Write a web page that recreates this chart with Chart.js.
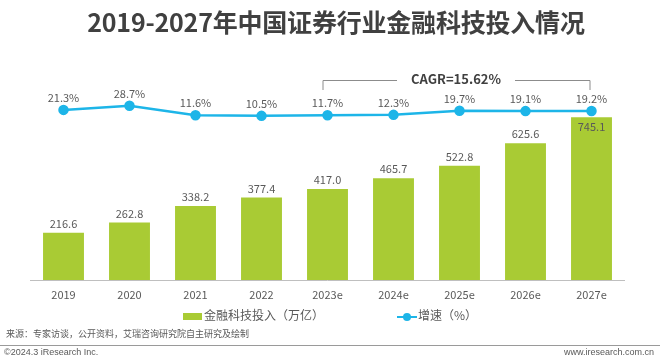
<!DOCTYPE html>
<html>
<head>
<meta charset="utf-8">
<script src="https://cdn.jsdelivr.net/npm/chart.js@4.4.0/dist/chart.umd.min.js"></script>
<style>
  html, body { margin: 0; padding: 0; background: #fff; }
  body { width: 660px; height: 362px; position: relative; overflow: hidden;
         font-family: "Noto Sans CJK SC", "Noto Sans", sans-serif; }
  #wrap { position: absolute; left: 0; top: 0; width: 660px; height: 362px; }
  .abs { position: absolute; white-space: nowrap; }
  #title { left: 6px; width: 660px; top: 3px; text-align: center; font-size: 25px;
           font-weight: bold; color: #404040; letter-spacing: -0.2px; }
  .leg { top: 306px; font-size: 12px; color: #595959; line-height: 18px; }
  .sw { display: inline-block; vertical-align: middle; }
  #src { left: 6px; top: 327px; font-size: 9px; color: #595959; }
  #rule { left: 0; top: 345px; width: 660px; height: 1px; background: #9a9a9a; }
  #copy { left: 4px; top: 347px; font-size: 9px; color: #595959; font-family: "Liberation Sans", Arial, sans-serif; }
  #web { right: 6px; top: 347px; font-size: 9px; color: #595959; font-family: "Liberation Sans", Arial, sans-serif; }
</style>
</head>
<body>
<div id="wrap"><canvas id="myChart" width="660" height="362"></canvas></div>
<div id="title" class="abs">2019-2027年中国证券行业金融科技投入情况</div>
<div class="abs leg" style="left:183px;"><span class="sw" style="width:19px;height:7px;background:#a9cb34;margin-right:2px;"></span>金融科技投入（万亿）</div>
<div class="abs leg" style="left:397px;"><span class="sw" style="width:20px;height:10px;position:relative;margin-right:1px;"><span style="position:absolute;left:0;top:4px;width:20px;height:2px;background:#1db5e8;"></span><span style="position:absolute;left:6px;top:1px;width:8px;height:8px;border-radius:50%;background:#1db5e8;"></span></span>增速（%）</div>
<div id="src" class="abs">来源：专家访谈，公开资料，艾瑞咨询研究院自主研究及绘制</div>
<div id="rule" class="abs"></div>
<div id="copy" class="abs">©2024.3 iResearch Inc.</div>
<div id="web" class="abs">www.iresearch.com.cn</div>
<script>
const categories = ['2019', '2020', '2021', '2022', '2023e', '2024e', '2025e', '2026e', '2027e'];
const investment = [216.6, 262.8, 338.2, 377.4, 417.0, 465.7, 522.8, 625.6, 745.1];
const growth = [21.3, 28.7, 11.6, 10.5, 11.7, 12.3, 19.7, 19.1, 19.2];
const cagrText = 'CAGR=15.62%';

const fontFam = '"Noto Sans CJK SC", "Noto Sans", sans-serif';

// value labels for bars and line points
const labelPlugin = {
  id: 'labels',
  afterDatasetsDraw(chart) {
    const ctx = chart.ctx;
    ctx.save();
    ctx.font = '11px ' + fontFam;
    ctx.fillStyle = '#595959';
    ctx.textAlign = 'center';
    ctx.textBaseline = 'middle';
    chart.getDatasetMeta(0).data.forEach((bar, i) => {
      const last = i === investment.length - 1;
      ctx.fillText(investment[i].toFixed(1), bar.x, last ? bar.y + 10 : bar.y - 9);
    });
    chart.getDatasetMeta(1).data.forEach((pt, i) => {
      ctx.fillText(growth[i].toFixed(1) + '%', pt.x, pt.y - 12);
    });
    ctx.restore();
  }
};

// CAGR bracket over 2023e-2027e
const cagrPlugin = {
  id: 'cagr',
  afterDraw(chart) {
    const ctx = chart.ctx;
    const x = chart.scales.x;
    const x1 = x.getPixelForValue(4) - 5;
    const x2 = x.getPixelForValue(8) - 2;
    const mid = (x1 + x2) / 2;
    const yTop = 80, yBot = 90;
    ctx.save();
    ctx.font = 'bold 13px ' + fontFam;
    const w = ctx.measureText(cagrText).width;
    ctx.strokeStyle = '#8c8c8c';
    ctx.lineWidth = 1;
    ctx.beginPath();
    ctx.moveTo(x1 + 0.5, yBot);
    ctx.lineTo(x1 + 0.5, yTop + 0.5);
    ctx.lineTo(mid - w / 2 - 14, yTop + 0.5);
    ctx.moveTo(mid + w / 2 + 14, yTop + 0.5);
    ctx.lineTo(x2 + 0.5, yTop + 0.5);
    ctx.lineTo(x2 + 0.5, yBot);
    ctx.stroke();
    ctx.fillStyle = '#404040';
    ctx.textAlign = 'center';
    ctx.textBaseline = 'middle';
    ctx.fillText(cagrText, mid, yTop - 1);
    ctx.restore();
  }
};

const ctx = document.getElementById('myChart').getContext('2d');
new Chart(ctx, {
  type: 'bar',
  data: {
    labels: categories,
    datasets: [{
      type: 'bar',
      label: '金融科技投入（万亿）',
      data: investment,
      yAxisID: 'y',
      backgroundColor: '#a9cb34',
      categoryPercentage: 0.62,
      barPercentage: 1,
      order: 1
    }, {
      type: 'line',
      label: '增速（%）',
      data: growth,
      yAxisID: 'y1',
      borderColor: '#1db5e8',
      backgroundColor: '#1db5e8',
      borderWidth: 2.5,
      pointRadius: 4,
      pointHoverRadius: 4,
      tension: 0,
      order: 0
    }]
  },
  options: {
    responsive: false,
    animation: false,
    layout: { padding: { left: 30.5, right: 35.5, top: 61.5, bottom: 52.8 } },
    plugins: { legend: { display: false }, tooltip: { enabled: false } },
    scales: {
      x: {
        grid: { display: false, drawTicks: false },
        border: { display: true, color: '#bfbfbf', width: 1 },
        ticks: { color: '#595959', font: { size: 11, family: fontFam }, padding: 8 }
      },
      y: { display: false, min: 0, max: 1000 },
      y1: { display: false, min: -287, max: 109 }
    }
  },
  plugins: [labelPlugin, cagrPlugin]
});
</script>
</body>
</html>
